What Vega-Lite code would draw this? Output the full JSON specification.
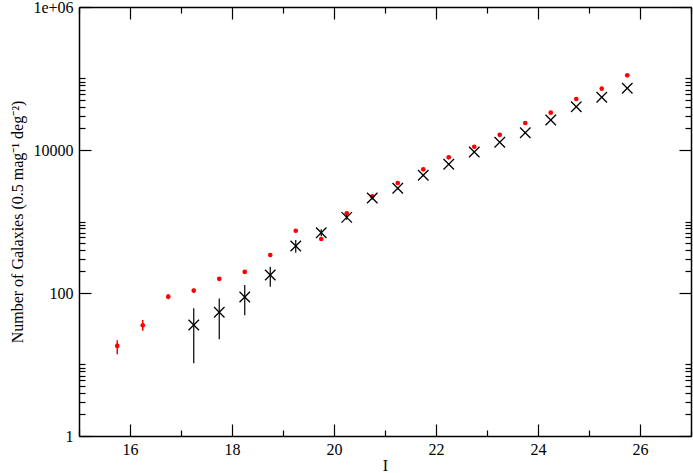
{
  "$schema": "https://vega.github.io/schema/vega-lite/v6.json",
  "width": 612,
  "height": 429,
  "autosize": {"type": "none"},
  "padding": {"left": 79, "top": 7, "right": 2, "bottom": 37},
  "background": "white",
  "config": {
    "view": {"stroke": null},
    "font": "Liberation Serif",
    "axis": {
      "grid": false,
      "domainColor": "black",
      "domainWidth": 1.5,
      "tickColor": "black",
      "tickWidth": 1.2,
      "labelFont": "Liberation Serif",
      "labelFontSize": 16,
      "labelColor": "black",
      "titleFont": "Liberation Serif",
      "titleFontSize": 16,
      "titleFontWeight": "normal",
      "titleColor": "black"
    }
  },
  "datasets": {
    "red": [
      {"mag": 15.75, "n": 18.2, "lo": 13.9, "hi": 21.9},
      {"mag": 16.25, "n": 35.3, "lo": 29.7, "hi": 41.9},
      {"mag": 16.75, "n": 88.8, "lo": 82, "hi": 96},
      {"mag": 17.25, "n": 108, "lo": 100, "hi": 116},
      {"mag": 17.75, "n": 158, "lo": 152, "hi": 164},
      {"mag": 18.25, "n": 197, "lo": 190, "hi": 204},
      {"mag": 18.75, "n": 340, "lo": 330, "hi": 350},
      {"mag": 19.25, "n": 743, "lo": 725, "hi": 760},
      {"mag": 19.75, "n": 569, "lo": 555, "hi": 583},
      {"mag": 20.25, "n": 1300, "lo": 1275, "hi": 1325},
      {"mag": 20.75, "n": 2250, "lo": 2210, "hi": 2290},
      {"mag": 21.25, "n": 3454, "lo": 3400, "hi": 3510},
      {"mag": 21.75, "n": 5370, "lo": 5290, "hi": 5450},
      {"mag": 22.25, "n": 7900, "lo": 7800, "hi": 8000},
      {"mag": 22.75, "n": 11100, "lo": 10950, "hi": 11250},
      {"mag": 23.25, "n": 16300, "lo": 16100, "hi": 16500},
      {"mag": 23.75, "n": 23870, "lo": 23600, "hi": 24150},
      {"mag": 24.25, "n": 33250, "lo": 32900, "hi": 33600},
      {"mag": 24.75, "n": 51650, "lo": 51100, "hi": 52200},
      {"mag": 25.25, "n": 72100, "lo": 71400, "hi": 72800},
      {"mag": 25.75, "n": 110900, "lo": 109800, "hi": 112000}
    ],
    "black": [
      {"mag": 17.25, "n": 35.7, "lo": 10.4, "hi": 61},
      {"mag": 17.75, "n": 53.7, "lo": 22.5, "hi": 84},
      {"mag": 18.25, "n": 87.9, "lo": 49, "hi": 129},
      {"mag": 18.75, "n": 178.6, "lo": 122, "hi": 233},
      {"mag": 19.25, "n": 454, "lo": 366, "hi": 551},
      {"mag": 19.75, "n": 697, "lo": 620, "hi": 780},
      {"mag": 20.25, "n": 1143, "lo": 1060, "hi": 1230},
      {"mag": 20.75, "n": 2132, "lo": 2030, "hi": 2240},
      {"mag": 21.25, "n": 2912, "lo": 2800, "hi": 3030},
      {"mag": 21.75, "n": 4430, "lo": 4300, "hi": 4560},
      {"mag": 22.25, "n": 6310, "lo": 6160, "hi": 6460},
      {"mag": 22.75, "n": 9380, "lo": 9200, "hi": 9560},
      {"mag": 23.25, "n": 12850, "lo": 12650, "hi": 13050},
      {"mag": 23.75, "n": 17470, "lo": 17250, "hi": 17700},
      {"mag": 24.25, "n": 26300, "lo": 26000, "hi": 26600},
      {"mag": 24.75, "n": 40340, "lo": 39900, "hi": 40800},
      {"mag": 25.25, "n": 54600, "lo": 54000, "hi": 55200},
      {"mag": 25.75, "n": 73000, "lo": 72300, "hi": 73700}
    ]
  },
  "layer": [
    {
      "data": {"name": "red"},
      "mark": {"type": "rule", "color": "#ff0000", "strokeWidth": 1.5},
      "encoding": {
        "x": {"field": "mag", "type": "quantitative", "scale": {"domain": [15, 27], "nice": false, "zero": false},
          "axis": {
            "orient": "bottom", "title": "I", "ticks": false, "domain": false,
            "values": [16, 18, 20, 22, 24, 26],
            "labelPadding": 5, "titlePadding": 0
          }},
        "y": {"field": "lo", "type": "quantitative", "scale": {"type": "log", "domain": [1, 1000000], "nice": false},
          "axis": {
            "orient": "left", "title": "Number of Galaxies (0.5 mag⁻¹ deg⁻²)", "ticks": false, "domain": false,
            "values": [1, 100, 10000, 1000000],
            "labelExpr": "datum.value == 1 ? '1' : datum.value == 100 ? '100' : datum.value == 10000 ? '10000' : '1e+06'",
            "labelOverlap": false,
            "labelPadding": 6, "titlePadding": 7
          }},
        "y2": {"field": "hi"}
      }
    },
    {
      "data": {"name": "red"},
      "mark": {"type": "point", "shape": "circle", "filled": true, "color": "#ff0000", "size": 22, "opacity": 1},
      "encoding": {
        "x": {"field": "mag", "type": "quantitative",
          "axis": {
            "orient": "bottom", "title": null, "labels": false,
            "values": [15, 16, 17, 18, 19, 20, 21, 22, 23, 24, 25, 26, 27],
            "tickSize": {"condition": {"test": "datum.value % 2 == 0", "value": -12}, "value": -6}
          }},
        "y": {"field": "n", "type": "quantitative",
          "axis": {
            "orient": "left", "title": null, "labels": false,
            "values": [1, 2, 3, 4, 5, 6, 7, 8, 9, 10, 100, 200, 300, 400, 500, 600, 700, 800, 900, 1000, 10000, 20000, 30000, 40000, 50000, 60000, 70000, 80000, 90000, 100000, 1000000],
            "tickSize": {"condition": {"test": "datum.value == 1 || datum.value == 100 || datum.value == 10000 || datum.value == 1000000", "value": -12}, "value": -6}
          }}
      }
    },
    {
      "data": {"name": "black"},
      "mark": {"type": "rule", "color": "black", "strokeWidth": 1.2},
      "encoding": {
        "x": {"field": "mag", "type": "quantitative",
          "axis": {
            "orient": "top", "title": null, "labels": false,
            "values": [15, 16, 17, 18, 19, 20, 21, 22, 23, 24, 25, 26, 27],
            "tickSize": {"condition": {"test": "datum.value % 2 == 0", "value": -12}, "value": -6}
          }},
        "y": {"field": "lo", "type": "quantitative",
          "axis": {
            "orient": "right", "title": null, "labels": false,
            "values": [1, 2, 3, 4, 5, 6, 7, 8, 9, 10, 100, 200, 300, 400, 500, 600, 700, 800, 900, 1000, 10000, 20000, 30000, 40000, 50000, 60000, 70000, 80000, 90000, 100000, 1000000],
            "tickSize": {"condition": {"test": "datum.value == 1 || datum.value == 100 || datum.value == 10000 || datum.value == 1000000", "value": -12}, "value": -6}
          }},
        "y2": {"field": "hi"}
      }
    },
    {
      "data": {"name": "black"},
      "mark": {"type": "point", "shape": "M-1,-1L1,1M-1,1L1,-1", "filled": false, "color": "black", "strokeWidth": 1.3, "size": 110, "opacity": 1},
      "encoding": {
        "x": {"field": "mag", "type": "quantitative", "axis": null},
        "y": {"field": "n", "type": "quantitative", "axis": null}
      }
    }
  ],
  "resolve": {"axis": {"x": "independent", "y": "independent"}}
}
